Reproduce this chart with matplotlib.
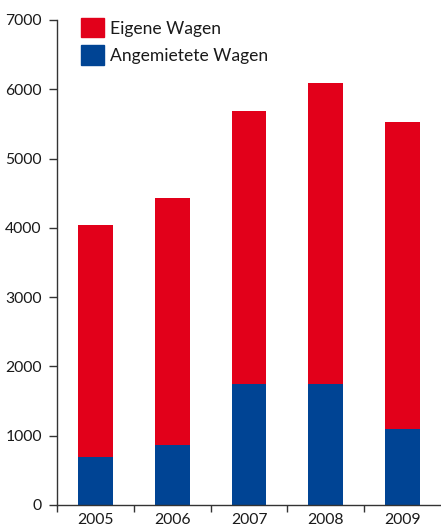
import numpy as np
import matplotlib
matplotlib.use("Agg")
import matplotlib.pyplot as plt
from matplotlib.patches import Patch

plt.rcParams['font.family'] = ['Lato', 'DejaVu Sans']

# data
years = ['2005', '2006', '2007', '2008', '2009']
total = [4040, 4430, 5680, 6090, 5530]
rented = [690, 860, 1750, 1750, 1100]
own = [t - r for t, r in zip(total, rented)]

red = '#e2001a'
blue = '#004494'

fig = plt.figure(figsize=(4.41, 5.28), dpi=100)
ax = fig.add_axes([57/441, 23/528, 1 - 57/441, 485/528])

x = np.arange(len(years))
ax.bar(x, rented, width=0.455, color=blue)
ax.bar(x, own, bottom=rented, width=0.455, color=red)

ax.set_xlim(-0.5, 4.5)
ax.set_ylim(0, 7000)
ax.set_yticks(range(0, 7001, 1000))
ax.set_xticks(x)
ax.set_xticklabels(years)
ax.set_xticks(np.arange(-0.5, 4.5, 1), minor=True)

ax.tick_params(axis='y', labelsize=11.3, length=6, width=1, color='#333333', pad=5, labelcolor='#1a1a1a')
ax.tick_params(axis='x', which='major', labelsize=11.3, length=0, pad=5.5, labelcolor='#1a1a1a')
ax.tick_params(axis='x', which='minor', length=5, width=1, color='#333333')

for s in ['top', 'right']:
    ax.spines[s].set_visible(False)
for s in ['left', 'bottom']:
    ax.spines[s].set_color('#333333')
    ax.spines[s].set_linewidth(1)

# legend: colour squares with labels, top left inside the axes
handles = [Patch(color=red, label='Eigene Wagen'), Patch(color=blue, label='Angemietete Wagen')]
leg = ax.legend(handles=handles, loc='upper left', bbox_to_anchor=(0.0625, 1.004), frameon=False,
                fontsize=12.6, handlelength=1.32, handleheight=1.32, handletextpad=0.34,
                labelspacing=0.46, borderaxespad=0, borderpad=0)
for t in leg.get_texts():
    t.set_color('#1a1a1a')

fig.savefig('out.png', dpi=100)
